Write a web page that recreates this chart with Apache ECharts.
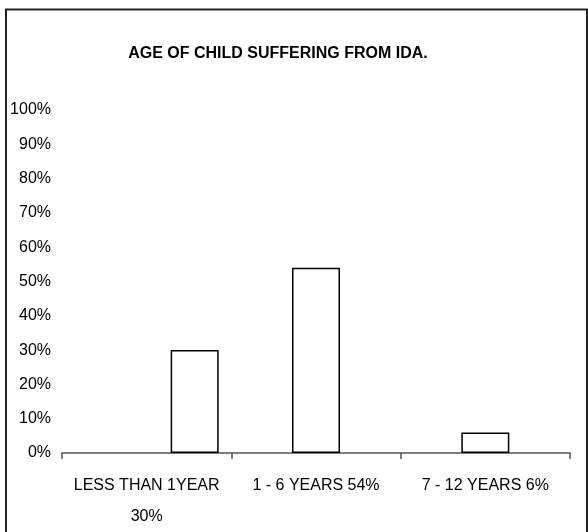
<!DOCTYPE html>
<html>
<head>
<meta charset="utf-8">
<script src="https://cdn.jsdelivr.net/npm/echarts@6/dist/echarts.min.js"></script>
<style>
  html, body { margin: 0; padding: 0; background: #fff; }
  #chart { width: 588px; height: 532px; }
</style>
</head>
<body>
<div id="chart"></div>
<script>
// Age groups of children with iron-deficiency anaemia (IDA)
const ageGroups = ['LESS THAN 1YEAR', '1 - 6 YEARS', '7 - 12 YEARS'];
const shares = [30, 54, 6];            // percent of children in each group
const labelJoin = ['\n', ' ', ' '];    // first label wraps its percentage
const yTicks = { min: 0, max: 100, step: 10 };

const FONT = '"Liberation Sans", Arial, sans-serif';

const tickLabels = ageGroups.map((g, i) => g + labelJoin[i] + shares[i] + '%');

// the first group's column sits right of its slot centre
const shiftedIdx = [0];
const blank = ageGroups.map(() => '-');
const mainData = shares.map((v, i) => (shiftedIdx.includes(i) ? '-' : v));
const shiftedData = shares.map((v, i) => (shiftedIdx.includes(i) ? v : '-'));

const barStyle = { color: '#ffffff', borderColor: '#000000', borderWidth: 1.5 };

const chart = echarts.init(document.getElementById('chart'), null, { renderer: 'canvas' });
chart.setOption({
  animation: false,
  backgroundColor: '#ffffff',
  title: {
    text: 'AGE OF CHILD SUFFERING FROM IDA.',
    left: 273,
    textAlign: 'center',
    top: 41,
    textStyle: { fontFamily: FONT, fontWeight: 'bold', fontSize: 16, color: '#000' }
  },
  graphic: [{
    type: 'rect',
    shape: { x: 6, y: 9.5, width: 581, height: 560 },
    style: { fill: 'none', stroke: '#222', lineWidth: 2 },
    silent: true
  }],
  grid: { left: 62, right: 18, top: 110, bottom: 72, containLabel: false },
  xAxis: {
    type: 'category',
    data: tickLabels,
    axisLine: { lineStyle: { color: '#555', width: 1.5 } },
    axisTick: { show: true, length: 6, lineStyle: { color: '#555', width: 1.5 } },
    axisLabel: {
      color: '#000', fontFamily: FONT, fontSize: 16, lineHeight: 31,
      margin: 17, interval: 0
    }
  },
  yAxis: {
    type: 'value',
    min: yTicks.min, max: yTicks.max, interval: yTicks.step,
    axisLine: { show: false },
    axisTick: { show: false },
    splitLine: { show: false },
    axisLabel: {
      color: '#000', fontFamily: FONT, fontSize: 16, margin: 11,
      formatter: '{value}%'
    }
  },
  series: [
    { type: 'bar', data: blank, barWidth: 48, barGap: '0%', itemStyle: barStyle, silent: true },
    { type: 'bar', data: mainData, barWidth: 48, barGap: '0%', itemStyle: barStyle },
    { type: 'bar', data: shiftedData, barWidth: 48, barGap: '0%', itemStyle: barStyle }
  ]
});
</script>
</body>
</html>
